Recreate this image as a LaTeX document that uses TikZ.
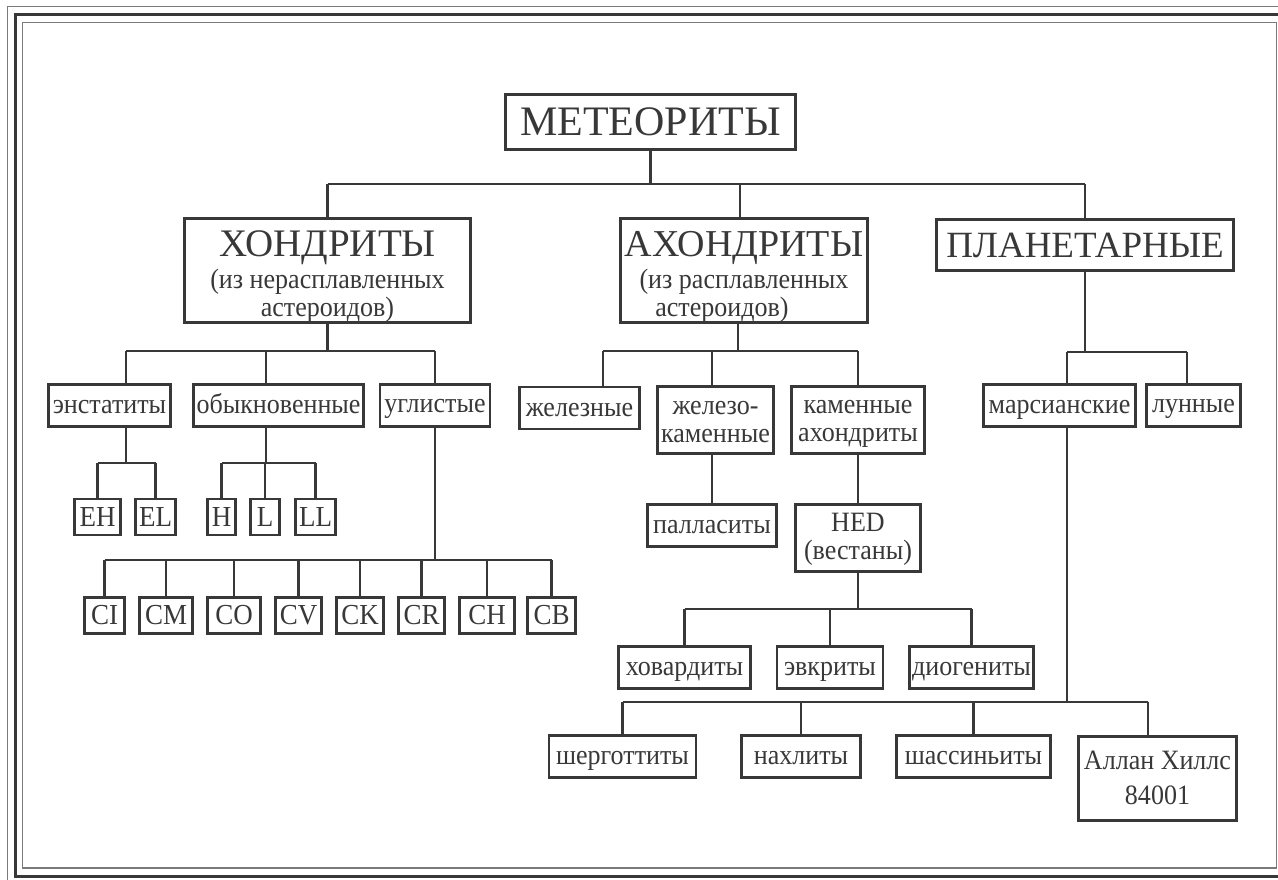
\documentclass[tikz,border=0pt]{standalone}
\usepackage{fontspec}
\setmainfont{Liberation Serif}
\newfontfamily\smallf{Liberation Serif}[FakeStretch=0.93]
\definecolor{ink}{HTML}{383838}
\definecolor{frameg}{HTML}{7A7A7A}
\newcommand{\ms}{\rule[-5pt]{0pt}{26pt}}
\begin{document}
\begin{tikzpicture}[x=1pt,y=-1pt,
  box/.style={draw=ink, line width=2.8pt, text=ink, inner sep=0pt, align=center,
    font=\smallf\fontsize{28}{28}\selectfont, minimum height=42pt},
  cbox/.style={box, font=\smallf\fontsize{29}{28}\selectfont, minimum height=36pt},
  head/.style={font=\normalfont\fontsize{#1}{#1}\selectfont},
  link/.style={draw=ink, line width=2.4pt}]
\useasboundingbox (0,0) rectangle (1278,880);
\begin{scope}
\clip (0,0) rectangle (1278,880);
\draw[frameg, line width=1.5pt] (7.5,900) -- (7.5,6.5) -- (1300,6.5);
\draw[ink, line width=3pt] (15,15) rectangle (1300,876);
\draw[frameg, line width=1.8pt] (22.5,22.5) rectangle (1276.5,868);
\end{scope}

% level 0
\node[box, minimum width=290pt, minimum height=55pt, head=42] (met) at (650.5,122) {МЕТЕОРИТЫ};
% level 1
\node[box, minimum width=286pt, minimum height=102pt] (hon) at (327.5,270.5)
  {\rule{0pt}{38pt}{\normalfont\fontsize{39}{39}\selectfont ХОНДРИТЫ}\\[4pt](из нерасплавленных\\астероидов)};
\node[box, minimum width=247pt, minimum height=102pt] (ahon) at (744,270.5)
  {\rule{0pt}{38pt}{\normalfont\fontsize{38}{38}\selectfont АХОНДРИТЫ}\\[4pt](из расплавленных\hspace*{12pt}\\астероидов)\hspace*{44pt}};
\node[box, minimum width=297pt, minimum height=51pt, head=37] (plan) at (1085,245) {ПЛАНЕТАРНЫЕ};

% chondrite classes
\node[box, minimum width=122pt] (enst) at (109.5,405.5) {\ms энстатиты};
\node[box, minimum width=170pt] (obyk) at (278.5,405.5) {\ms обыкновенные};
\node[box, minimum width=110pt] (ugl) at (435,405.5) {\ms углистые};
\node[cbox, minimum width=46pt] (EH) at (97.5,517) {EH};
\node[cbox, minimum width=40pt] (EL) at (155.5,517) {EL};
\node[cbox, minimum width=28pt] (H) at (221.5,517) {H};
\node[cbox, minimum width=29pt] (L) at (265,517) {L};
\node[cbox, minimum width=40pt] (LL) at (315.5,517) {LL};
\node[cbox, minimum width=40pt] (CI) at (104.5,615.5) {CI};
\node[cbox, minimum width=53pt] (CM) at (166,615.5) {CM};
\node[cbox, minimum width=53pt] (CO) at (234,615.5) {CO};
\node[cbox, minimum width=46pt] (CV) at (298.5,615.5) {CV};
\node[cbox, minimum width=47pt] (CK) at (360,615.5) {CK};
\node[cbox, minimum width=46pt] (CR) at (421.5,615.5) {CR};
\node[cbox, minimum width=55pt] (CH) at (487,615.5) {CH};
\node[cbox, minimum width=48pt] (CB) at (551.5,615.5) {CB};

% achondrite classes
\node[box, minimum width=120pt] (zhel) at (579.5,408) {\ms железные};
\node[box, minimum width=116pt, minimum height=67pt] (zhk) at (715.5,420) {\ms железо-\\\ms каменные};
\node[box, minimum width=133pt, minimum height=67pt] (kam) at (858,420) {\ms каменные\\\ms ахондриты};
\node[box, minimum width=129pt] (pall) at (712,525.5) {\ms палласиты};
\node[box, minimum width=125pt, minimum height=67pt] (hed) at (858,538) {\ms HED\\\ms (вестаны)};
\node[box, minimum width=132pt] (how) at (684.5,667.5) {\ms ховардиты};
\node[box, minimum width=106pt] (evk) at (830,667.5) {\ms эвкриты};
\node[box, minimum width=124pt] (dio) at (971.5,667.5) {\ms диогениты};

% planetary
\node[box, minimum width=152pt] (mars) at (1059.5,405.5) {\ms марсианские};
\node[box, minimum width=94pt] (moon) at (1193.5,405.5) {\ms лунные};
\node[box, minimum width=147pt] (sherg) at (622.5,756.5) {\ms шерготтиты};
\node[box, minimum width=119pt] (nakh) at (801,756.5) {\ms нахлиты};
\node[box, minimum width=154pt] (shass) at (973.5,756.5) {\ms шассиньиты};
\node[box, minimum width=158pt, minimum height=84pt, font=\smallf\fontsize{28}{35}\selectfont] (alh) at (1157.5,778.5) {\ms Аллан Хиллс\\\ms 84001};

% bars
\coordinate (b0) at (0,184);
\coordinate (b1) at (0,351);
\coordinate (b2) at (0,463);
\coordinate (b3) at (0,560);
\coordinate (b4) at (0,609);
\coordinate (b5) at (0,352);
\coordinate (b6) at (0,702);

% level 0 -> 1
\draw[link] (met.south) -- (met.south |- b0);
\draw[link] (hon.north |- b0) -- (plan.north |- b0);
\draw[link] (hon.north) -- (hon.north |- b0);
\draw[link] ([xshift=-4pt]ahon.north) -- ([xshift=-4pt]ahon.north |- b0);
\draw[link] (plan.north) -- (plan.north |- b0);

% chondrites
\draw[link] (hon.south) -- (hon.south |- b1);
\draw[link] ([xshift=16.5pt]enst.north |- b1) -- (ugl.north |- b1);
\draw[link] ([xshift=16.5pt]enst.north) -- ([xshift=16.5pt]enst.north |- b1);
\draw[link] ([xshift=-12.5pt]obyk.north) -- ([xshift=-12.5pt]obyk.north |- b1);
\draw[link] (ugl.north) -- (ugl.north |- b1);

\draw[link] ([xshift=16.5pt]enst.south) -- ([xshift=16.5pt]enst.south |- b2);
\draw[link] (EH.north |- b2) -- (EL.north |- b2);
\draw[link] (EH.north) -- (EH.north |- b2);
\draw[link] (EL.north) -- (EL.north |- b2);

\draw[link] ([xshift=-12.5pt]obyk.south) -- ([xshift=-12.5pt]obyk.south |- b2);
\draw[link] (H.north |- b2) -- (LL.north |- b2);
\draw[link] (H.north) -- (H.north |- b2);
\draw[link] (L.north) -- (L.north |- b2);
\draw[link] (LL.north) -- (LL.north |- b2);

\draw[link] (ugl.south) -- (ugl.south |- b3);
\draw[link] (CI.north |- b3) -- (CB.north |- b3);
\foreach \c in {CI,CM,CO,CV,CK,CR,CH,CB}
  \draw[link] (\c.north) -- (\c.north |- b3);

% achondrites
\draw[link] ([xshift=-6pt]ahon.south) -- ([xshift=-6pt]ahon.south |- b1);
\draw[link] ([xshift=23.5pt]zhel.north |- b1) -- (kam.north |- b1);
\draw[link] ([xshift=23.5pt]zhel.north) -- ([xshift=23.5pt]zhel.north |- b1);
\draw[link] ([xshift=-3.5pt]zhk.north) -- ([xshift=-3.5pt]zhk.north |- b1);
\draw[link] (kam.north) -- (kam.north |- b1);
\draw[link] (pall.north) -- ([xshift=-3.5pt]zhk.south);
\draw[link] (hed.north) -- (kam.south);
\draw[link] (hed.south) -- (hed.south |- b4);
\draw[link] (how.north |- b4) -- (dio.north |- b4);
\draw[link] (how.north) -- (how.north |- b4);
\draw[link] (evk.north) -- (evk.north |- b4);
\draw[link] (dio.north) -- (dio.north |- b4);

% planetary
\draw[link] (plan.south) -- (plan.south |- b5);
\draw[link] ([xshift=7.5pt]mars.north |- b5) -- ([xshift=-6.5pt]moon.north |- b5);
\draw[link] ([xshift=7.5pt]mars.north) -- ([xshift=7.5pt]mars.north |- b5);
\draw[link] ([xshift=-6.5pt]moon.north) -- ([xshift=-6.5pt]moon.north |- b5);
\draw[link] ([xshift=7.5pt]mars.south) -- ([xshift=7.5pt]mars.south |- b6);
\draw[link] (sherg.north |- b6) -- ([xshift=-9.5pt]alh.north |- b6);
\draw[link] (sherg.north) -- (sherg.north |- b6);
\draw[link] (nakh.north) -- (nakh.north |- b6);
\draw[link] (shass.north) -- (shass.north |- b6);
\draw[link] ([xshift=-9.5pt]alh.north) -- ([xshift=-9.5pt]alh.north |- b6);
\end{tikzpicture}
\end{document}
